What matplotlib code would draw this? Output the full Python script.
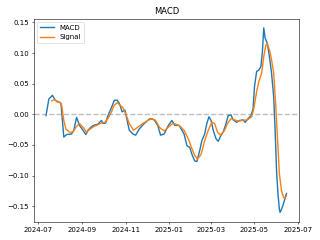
import matplotlib
matplotlib.use("Agg")
import matplotlib.pyplot as plt
import pandas as pd

macd_dates = ["2024-07-12","2024-07-16","2024-07-21","2024-07-25","2024-07-30","2024-08-02","2024-08-06",
    "2024-08-10","2024-08-17","2024-08-20","2024-08-24","2024-08-28","2024-09-02","2024-09-06","2024-09-09",
    "2024-09-13","2024-09-17","2024-09-23","2024-09-28","2024-09-30","2024-10-04","2024-10-07","2024-10-12",
    "2024-10-16","2024-10-20","2024-10-23","2024-10-27","2024-10-31","2024-11-03","2024-11-06","2024-11-11",
    "2024-11-15","2024-11-20","2024-11-27","2024-12-05","2024-12-11","2024-12-16","2024-12-20","2024-12-25",
    "2024-12-31","2025-01-05","2025-01-09","2025-01-15","2025-01-22","2025-01-26","2025-01-30","2025-02-02",
    "2025-02-06","2025-02-09","2025-02-13","2025-02-16","2025-02-20","2025-02-23","2025-02-26","2025-03-01",
    "2025-03-04","2025-03-08","2025-03-11","2025-03-15","2025-03-18","2025-03-22","2025-03-25","2025-03-29",
    "2025-04-01","2025-04-06","2025-04-10","2025-04-15","2025-04-18","2025-04-22","2025-04-26","2025-04-29",
    "2025-05-01","2025-05-04","2025-05-07","2025-05-10","2025-05-12","2025-05-14","2025-05-16","2025-05-19",
    "2025-05-22","2025-05-25","2025-05-28","2025-05-30","2025-06-01","2025-06-03","2025-06-05","2025-06-06",
    "2025-06-09","2025-06-12","2025-06-15"]
macd_values = [-0.002,0.025,0.031,0.023,0.020,0.018,-0.037,
    -0.033,-0.032,-0.026,-0.005,-0.018,-0.026,-0.033,-0.026,
    -0.021,-0.018,-0.016,-0.010,-0.015,-0.014,-0.002,0.011,
    0.023,0.023,0.018,0.004,0.007,-0.010,-0.026,-0.032,
    -0.034,-0.024,-0.015,-0.007,-0.009,-0.018,-0.034,-0.032,
    -0.018,-0.010,-0.018,-0.018,-0.032,-0.051,-0.054,-0.065,
    -0.076,-0.077,-0.059,-0.043,-0.032,-0.015,-0.004,-0.010,
    -0.026,-0.040,-0.044,-0.034,-0.029,-0.015,-0.002,-0.001,
    -0.009,-0.013,-0.010,-0.009,-0.013,-0.007,-0.002,0.009,
    0.045,0.070,0.072,0.078,0.100,0.141,0.124,0.116,
    0.094,0.067,0.028,-0.026,-0.092,-0.130,-0.155,-0.160,
    -0.152,-0.141,-0.129]

signal_dates = ["2024-07-20","2024-07-24","2024-07-28","2024-07-31","2024-08-03","2024-08-06","2024-08-09",
    "2024-08-14","2024-08-19","2024-08-23","2024-08-28","2024-09-02","2024-09-07","2024-09-12","2024-09-17",
    "2024-09-23","2024-09-28","2024-10-03","2024-10-07","2024-10-12","2024-10-16","2024-10-20","2024-10-23",
    "2024-10-28","2024-11-02","2024-11-06","2024-11-12","2024-11-18","2024-11-25","2024-12-02","2024-12-08",
    "2024-12-13","2024-12-19","2024-12-25","2024-12-31","2025-01-06","2025-01-10","2025-01-15","2025-01-22",
    "2025-01-28","2025-02-02","2025-02-06","2025-02-10","2025-02-15","2025-02-20","2025-02-25","2025-03-02",
    "2025-03-06","2025-03-10","2025-03-14","2025-03-20","2025-03-24","2025-03-29","2025-04-03","2025-04-08",
    "2025-04-15","2025-04-21","2025-04-27","2025-04-30","2025-05-04","2025-05-07","2025-05-11","2025-05-14",
    "2025-05-17","2025-05-19","2025-05-22","2025-05-25","2025-05-28","2025-05-31","2025-06-03","2025-06-05",
    "2025-06-08","2025-06-11","2025-06-13","2025-06-15"]
signal_values = [0.022,0.024,0.020,0.020,0.015,-0.010,-0.024,
    -0.029,-0.029,-0.021,-0.015,-0.021,-0.029,-0.024,-0.020,
    -0.017,-0.014,-0.013,-0.007,0.004,0.015,0.019,0.016,
    0.011,-0.002,-0.015,-0.026,-0.021,-0.015,-0.010,-0.007,
    -0.010,-0.022,-0.027,-0.021,-0.015,-0.016,-0.018,-0.026,
    -0.040,-0.056,-0.067,-0.073,-0.065,-0.043,-0.026,-0.013,
    -0.015,-0.029,-0.034,-0.026,-0.015,-0.007,-0.009,-0.011,
    -0.010,-0.009,-0.004,0.009,0.037,0.053,0.067,0.094,
    0.113,0.115,0.105,0.089,0.067,0.012,-0.054,-0.097,
    -0.125,-0.136,-0.136,-0.133]

fig, ax = plt.subplots(figsize=(6.4, 4.8), dpi=50)
ax.plot(pd.to_datetime(macd_dates), macd_values, label="MACD", linewidth=2)
ax.plot(pd.to_datetime(signal_dates), signal_values, label="Signal", linewidth=2)
ax.axhline(0, color="gray", linestyle="--", alpha=0.5, linewidth=2)
ax.set_title("MACD")
ax.legend(loc="upper left")
fig.tight_layout()
fig.savefig("out.png")
